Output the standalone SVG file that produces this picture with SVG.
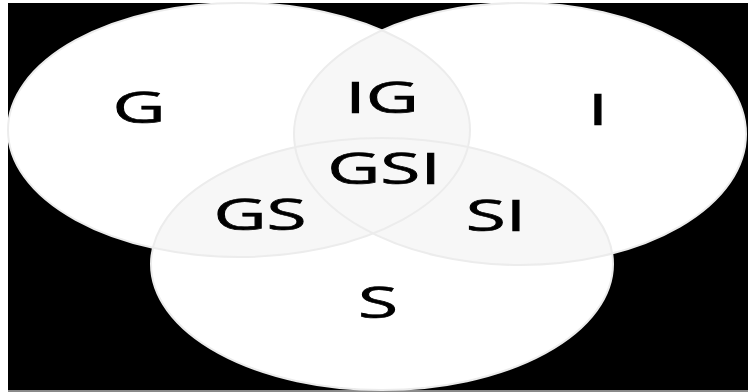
<svg xmlns="http://www.w3.org/2000/svg" width="748" height="392" viewBox="0 0 748 392">
<style>
.set{fill:#ffffff;}
.edge{fill:none;stroke:#ececec;stroke-width:2;}
.ov{fill:#f7f7f7;}
.lbl{font-family:"Open Sans","Liberation Sans",sans-serif;font-size:43px;fill:#000000;stroke:#000000;stroke-width:0.7;text-anchor:middle;}
</style>
<defs>
<clipPath id="cG"><ellipse cx="239" cy="130" rx="231" ry="127"/></clipPath>
<clipPath id="cI"><ellipse cx="520" cy="134" rx="226" ry="131"/></clipPath>
</defs>
<rect x="0" y="0" width="748" height="392" fill="#ffffff"/>
<rect x="8" y="3" width="740" height="387" fill="#000000"/>
<rect x="8" y="390" width="740" height="2" fill="#8a8a8a"/>
<g id="set-G"><ellipse class="set" cx="239" cy="130" rx="231" ry="127"/></g>
<g id="set-I"><ellipse class="set" cx="520" cy="134" rx="226" ry="131"/></g>
<g id="set-S"><ellipse class="set" cx="382" cy="264" rx="231" ry="126"/></g>
<g id="overlaps">
<g clip-path="url(#cG)"><ellipse class="ov" cx="520" cy="134" rx="226" ry="131"/></g>
<g clip-path="url(#cG)"><ellipse class="ov" cx="382" cy="264" rx="231" ry="126"/></g>
<g clip-path="url(#cI)"><ellipse class="ov" cx="382" cy="264" rx="231" ry="126"/></g>
</g>
<g id="outlines">
<ellipse class="edge" cx="239" cy="130" rx="231" ry="127"/>
<ellipse class="edge" cx="520" cy="134" rx="226" ry="131"/>
<ellipse class="edge" cx="382" cy="264" rx="231" ry="126"/>
</g>
<g id="labels">
<text class="lbl" transform="translate(139,123) scale(1.7,1)">G</text>
<text class="lbl" transform="translate(382,113) scale(1.7,1)">IG</text>
<text class="lbl" transform="translate(598,125) scale(1.7,1)">I</text>
<text class="lbl" transform="translate(384,184) scale(1.7,1)">GSI</text>
<text class="lbl" transform="translate(260,230) scale(1.7,1)">GS</text>
<text class="lbl" transform="translate(496,231) scale(1.7,1)">SI</text>
<text class="lbl" transform="translate(378,318) scale(1.7,1)">S</text>
</g>
</svg>
